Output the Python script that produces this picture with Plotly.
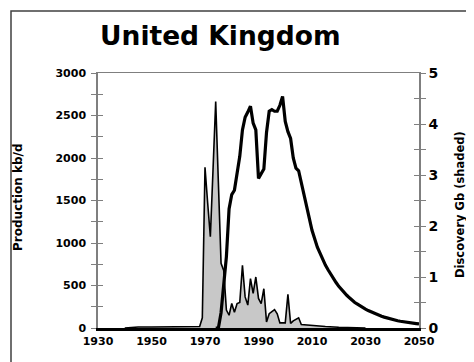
import plotly.graph_objects as go

# ---------------- data ----------------
disc_years = [1940, 1945, 1950, 1955, 1960, 1965, 1967, 1968, 1969, 1970, 1971, 1972,
              1973, 1974, 1975, 1976, 1977, 1978, 1979, 1980, 1981, 1982, 1983, 1984,
              1985, 1986, 1987, 1988, 1989, 1990, 1991, 1992, 1993, 1994, 1995, 1996,
              1997, 1998, 1999, 2000, 2001, 2002, 2003, 2004, 2005, 2006, 2007, 2008,
              2010, 2012, 2015, 2020, 2025, 2030]
disc_vals = [0.0, 0.02, 0.02, 0.02, 0.02, 0.02, 0.02, 0.03, 0.2, 3.15, 2.45, 1.79,
             3.1, 4.44, 2.85, 1.27, 1.13, 0.35, 0.25, 0.48, 0.31, 0.48, 0.5, 1.23,
             0.61, 0.45, 0.97, 0.68, 1.0, 0.58, 0.48, 0.77, 0.12, 0.28, 0.32, 0.36,
             0.28, 0.1, 0.1, 0.1, 0.66, 0.09, 0.14, 0.17, 0.2, 0.07, 0.065, 0.06,
             0.05, 0.04, 0.03, 0.015, 0.007, 0.0]

prod_years = list(range(1974, 2051))
prod_vals = [0, 0, 180, 480, 840, 1400, 1570, 1620, 1800, 2020, 2330, 2480, 2540, 2610,
             2410, 2330, 1760, 1820, 1870, 2300, 2550, 2570, 2550, 2550, 2620, 2725,
             2430, 2310, 2230, 2000, 1880, 1850, 1700, 1560, 1420, 1290, 1150, 1040,
             950, 880, 800, 740, 685, 630, 580, 535, 490, 450, 415, 385, 355, 325,
             300, 280, 258, 240, 222, 205, 190, 176, 162, 150, 138, 128, 118, 108,
             100, 92, 85, 79, 73, 68, 63, 59, 55, 52, 48]

x_ticks = [1930, 1950, 1970, 1990, 2010, 2030, 2050]
title_text = "United Kingdom"
left_title = "Production kb/d"
right_title = "Discovery Gb (shaded)"

# ---------------- layout geometry (page body adds an 8px offset) ----------------
OFF = 8
W, H = 474 - OFF, 362 - OFF
L, R, T, B = 98 - OFF, 419 - OFF, 73 - OFF, 328 - OFF
pw, ph = R - L, B - T


def px(xp):
    """screen x pixel -> paper coordinate"""
    return (xp - OFF - L) / pw


def py(yp):
    """screen y pixel -> paper coordinate"""
    return (B - (yp - OFF)) / ph


FONT = "DejaVu Sans"
GRAY = "#7f7f7f"

fig = go.Figure()

fig.add_trace(go.Scatter(
    x=disc_years, y=disc_vals, mode="lines", yaxis="y", xaxis="x",
    line=dict(color="black", width=1.6), fill="tozeroy", fillcolor="#c8c8c8",
    hoverinfo="skip", showlegend=False))

fig.add_trace(go.Scatter(
    x=prod_years, y=prod_vals, mode="lines", yaxis="y2", xaxis="x",
    line=dict(color="black", width=3.2), hoverinfo="skip", showlegend=False))

tickfont_small = dict(family=FONT, size=11, color="black", weight="bold")

fig.update_layout(
    width=W, height=H,
    margin=dict(l=L, r=W - R, t=T, b=H - B, pad=0, autoexpand=False),
    paper_bgcolor="white", plot_bgcolor="white",
    showlegend=False,
    xaxis=dict(range=[1930, 2050], tickvals=x_ticks, ticks="", showgrid=False,
               zeroline=False, showline=True, linecolor="black", linewidth=2.5,
               tickfont=tickfont_small, ticklabelstandoff=1, automargin=False),
    xaxis2=dict(range=[1930, 2050], overlaying="x", side="top", showline=True,
                linecolor=GRAY, linewidth=1, showticklabels=False, ticks="",
                showgrid=False, zeroline=False, automargin=False),
    yaxis=dict(range=[0, 5], side="right", tickvals=[0, 1, 2, 3, 4, 5],
               ticks="outside", ticklen=5, tickcolor=GRAY, tickwidth=1,
               minor=dict(dtick=0.5, ticks="outside", ticklen=5, tickcolor=GRAY),
               showline=True, linecolor=GRAY, linewidth=1.5, showgrid=False,
               zeroline=False, automargin=False,
               tickfont=dict(family=FONT, size=14, color="black", weight="bold")),
    yaxis4=dict(range=[0, 5], side="right", overlaying="y", anchor="x",
                tickvals=[0, 1, 2, 3, 4, 5], ticks="inside", ticklen=5,
                tickcolor=GRAY, showticklabels=False,
                minor=dict(dtick=0.5, ticks="inside", ticklen=5, tickcolor=GRAY),
                showline=False, showgrid=False, zeroline=False, automargin=False),
    yaxis2=dict(range=[0, 3000], side="left", overlaying="y", anchor="x",
                tickvals=[0, 500, 1000, 1500, 2000, 2500, 3000],
                ticks="outside", ticklen=5, tickcolor=GRAY, tickwidth=1,
                minor=dict(dtick=250, ticks="outside", ticklen=5, tickcolor=GRAY),
                showline=True, linecolor=GRAY, linewidth=1.5, showgrid=False,
                zeroline=False, tickfont=tickfont_small, ticklabelstandoff=3,
                automargin=False),
    yaxis3=dict(range=[0, 3000], side="left", overlaying="y", anchor="x",
                tickvals=[0, 500, 1000, 1500, 2000, 2500, 3000],
                ticks="inside", ticklen=5, tickcolor=GRAY, showticklabels=False,
                minor=dict(dtick=250, ticks="inside", ticklen=5, tickcolor=GRAY),
                showline=False, showgrid=False, zeroline=False, automargin=False),
)

fig.add_trace(go.Scatter(x=[None], y=[None], xaxis="x2", yaxis="y3",
                         showlegend=False, hoverinfo="skip"))
fig.add_trace(go.Scatter(x=[None], y=[None], xaxis="x", yaxis="y4",
                         showlegend=False, hoverinfo="skip"))

fig.add_annotation(text=title_text, xref="paper", yref="paper",
                   x=px(220), y=py(35), xanchor="center", yanchor="middle",
                   showarrow=False,
                   font=dict(family=FONT, size=26.5, color="black", weight="bold"))
fig.add_annotation(text=left_title, xref="paper", yref="paper",
                   x=px(18), y=py(197), xanchor="center", yanchor="middle",
                   textangle=-90, showarrow=False,
                   font=dict(family=FONT, size=12, color="black", weight="bold"))
fig.add_annotation(text=right_title, xref="paper", yref="paper",
                   x=px(460), y=py(204), xanchor="center", yanchor="middle",
                   textangle=-90, showarrow=False,
                   font=dict(family=FONT, size=11.5, color="black", weight="bold"))

# outer frame
fig.add_shape(type="rect", xref="paper", yref="paper",
              x0=px(11), x1=px(490), y0=py(380), y1=py(11),
              line=dict(color="#404040", width=1.5), fillcolor="rgba(0,0,0,0)",
              layer="below")

fig.write_html("out.html")
